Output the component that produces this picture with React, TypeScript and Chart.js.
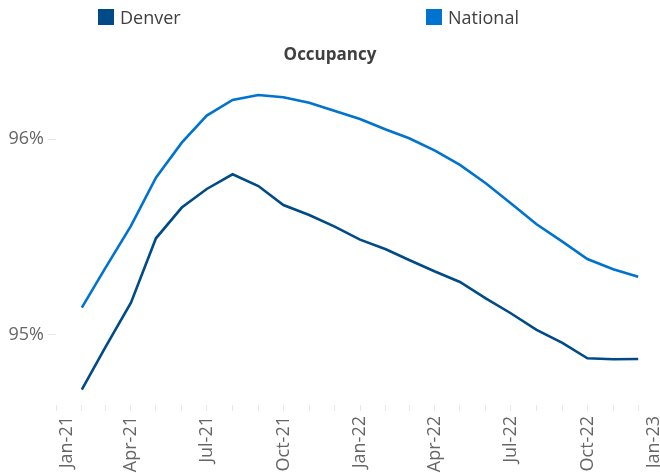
import React, { useEffect, useRef } from "react";
import { Chart, registerables } from "chart.js";

Chart.register(...registerables);

// ---- data ----
const months = [
  "2021-02", "2021-03", "2021-04", "2021-05", "2021-06", "2021-07", "2021-08",
  "2021-09", "2021-10", "2021-11", "2021-12", "2022-01", "2022-02", "2022-03",
  "2022-04", "2022-05", "2022-06", "2022-07", "2022-08", "2022-09", "2022-10",
  "2022-11", "2022-12",
];
const denver = [
  94.72, 94.935, 95.165, 95.494, 95.651, 95.746, 95.821, 95.761, 95.664,
  95.613, 95.555, 95.487, 95.438, 95.383, 95.324, 95.271, 95.187, 95.111,
  95.026, 94.96, 94.881, 94.876, 94.877,
];
const national = [
  95.14, 95.34, 95.557, 95.804, 95.983, 96.121, 96.201, 96.226, 96.215,
  96.187, 96.146, 96.104, 96.05, 96.005, 95.942, 95.869, 95.775, 95.673,
  95.566, 95.477, 95.388, 95.336, 95.298,
];
const axisStart = "2021-01";
const axisEnd = "2023-01";
const quarterLabels = [
  "Jan-21", "Apr-21", "Jul-21", "Oct-21", "Jan-22", "Apr-22", "Jul-22", "Oct-22", "Jan-23",
];
const yTicks = [95, 96];
const yMin = 94.642;
const yMax = 96.303;

// edge labels are nudged inward (in days) like the original chart does
const EDGE_LABEL_SHIFT_START = 13.5;
const EDGE_LABEL_SHIFT_END = -12.5;

const DENVER_COLOR = "#004b87";
const NATIONAL_COLOR = "#0073cf";
const FONT = "'Open Sans', sans-serif";

function dayOf(ym: string): number {
  const [y, m] = ym.split("-").map(Number);
  return Date.UTC(y, m - 1, 1) / 86400000;
}

function monthTicks(a: string, b: string): number[] {
  const out: number[] = [];
  let [y, m] = a.split("-").map(Number);
  const [ey, em] = b.split("-").map(Number);
  while (y < ey || (y === ey && m <= em)) {
    out.push(Date.UTC(y, m - 1, 1) / 86400000);
    m += 1;
    if (m > 12) {
      m = 1;
      y += 1;
    }
  }
  return out;
}

const tickDays = monthTicks(axisStart, axisEnd);

function buildXTicks() {
  const last = tickDays.length - 1;
  const ticks: any[] = tickDays.map((d, i) => ({
    value: d,
    text: i % 3 === 0 && i !== 0 && i !== last ? quarterLabels[i / 3] : "",
    labelOnly: false,
  }));
  ticks.push({
    value: tickDays[0] + EDGE_LABEL_SHIFT_START,
    text: quarterLabels[0],
    labelOnly: true,
  });
  ticks.push({
    value: tickDays[last] + EDGE_LABEL_SHIFT_END,
    text: quarterLabels[quarterLabels.length - 1],
    labelOnly: true,
  });
  ticks.sort((a, b) => a.value - b.value);
  return ticks;
}

export default function App() {
  const ref = useRef<HTMLCanvasElement | null>(null);

  useEffect(() => {
    if (!ref.current) return;
    Chart.defaults.font.family = FONT;
    const chart = new Chart(ref.current, {
      type: "line",
      data: {
        datasets: [
          {
            label: "Denver",
            data: months.map((mo, i) => ({ x: dayOf(mo), y: denver[i] })),
            borderColor: DENVER_COLOR,
            backgroundColor: DENVER_COLOR,
            borderWidth: 2.6,
            pointRadius: 0,
            tension: 0,
          },
          {
            label: "National",
            data: months.map((mo, i) => ({ x: dayOf(mo), y: national[i] })),
            borderColor: NATIONAL_COLOR,
            backgroundColor: NATIONAL_COLOR,
            borderWidth: 2.6,
            pointRadius: 0,
            tension: 0,
          },
        ],
      },
      options: {
        animation: false,
        responsive: true,
        maintainAspectRatio: false,
        layout: { padding: { left: -4, right: 12, top: 45, bottom: 0 } },
        plugins: {
          legend: { display: false },
          tooltip: { enabled: false },
          title: {
            display: true,
            text: "Occupancy",
            color: "#404040",
            font: { size: 17, weight: "bold", family: FONT },
            padding: { top: 0, bottom: 14.6 },
          },
        },
        scales: {
          x: {
            type: "linear",
            min: dayOf(axisStart),
            max: dayOf(axisEnd),
            afterBuildTicks: (s: any) => {
              s.ticks = buildXTicks();
            },
            afterFit: (s: any) => {
              s.height = 68;
              s.paddingLeft = 0;
              s.paddingRight = 0;
            },
            grid: {
              drawOnChartArea: false,
              drawTicks: true,
              tickLength: 6,
              color: (ctx: any) =>
                ctx.tick && ctx.tick.labelOnly ? "rgba(0,0,0,0)" : "#e6e6e6",
            },
            border: { display: false },
            ticks: {
              autoSkip: false,
              minRotation: 90,
              maxRotation: 90,
              padding: 5,
              color: "#666666",
              font: { size: 18, family: FONT },
              callback: (_v: any, i: number, ticks: any[]) => ticks[i]?.text ?? "",
            },
          },
          y: {
            min: yMin,
            max: yMax,
            afterBuildTicks: (s: any) => {
              s.ticks = yTicks.map((v) => ({ value: v }));
            },
            afterFit: (s: any) => {
              s.width = 60;
            },
            grid: {
              drawOnChartArea: false,
              drawTicks: true,
              tickLength: 8,
              color: "#e6e6e6",
            },
            border: { display: false },
            ticks: {
              padding: 4,
              color: "#666666",
              font: { size: 18, family: FONT },
              callback: (v: any) => `${v}%`,
            },
          },
        },
      },
    } as any);
    return () => chart.destroy();
  }, []);

  const legendItem = (label: string, color: string, left: number) => (
    <div
      style={{
        position: "absolute",
        left,
        top: 9,
        display: "flex",
        alignItems: "center",
        height: 16,
      }}
    >
      <span style={{ display: "inline-block", width: 16, height: 16, background: color }} />
      <span
        style={{
          marginLeft: 6,
          fontFamily: FONT,
          fontSize: 18,
          lineHeight: "16px",
          color: "#404040",
          whiteSpace: "nowrap",
        }}
      >
        {label}
      </span>
    </div>
  );

  return (
    <div
      style={{
        position: "fixed",
        left: 0,
        top: 0,
        width: 660,
        height: 473,
        overflow: "hidden",
        background: "#ffffff",
      }}
    >
      <div style={{ position: "absolute", left: 0, top: 0, width: 676, height: 473 }}>
        <canvas ref={ref} />
      </div>
      {legendItem("Denver", DENVER_COLOR, 98)}
      {legendItem("National", NATIONAL_COLOR, 426)}
    </div>
  );
}
